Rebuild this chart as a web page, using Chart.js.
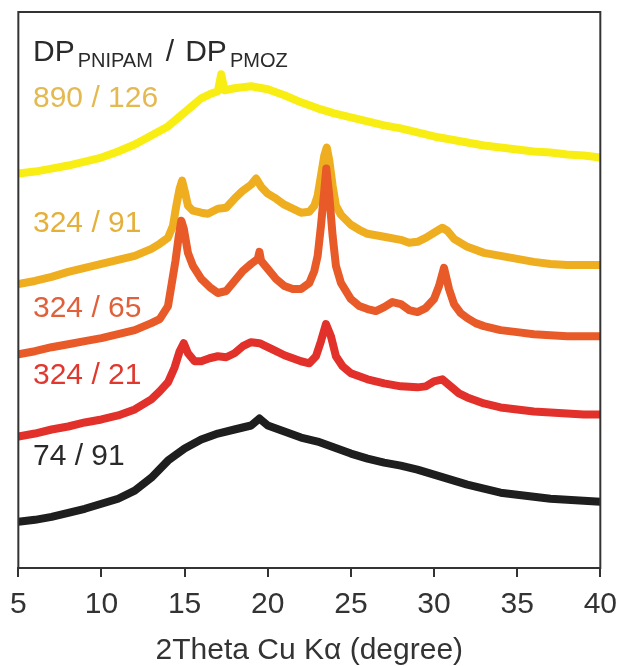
<!DOCTYPE html>
<html>
<head>
<meta charset="utf-8">
<script src="https://cdn.jsdelivr.net/npm/chart.js@4/dist/chart.umd.min.js"></script>
<style>
  html, body { margin: 0; padding: 0; background: #ffffff; }
  #wrap { width: 627px; height: 666px; position: relative; }
</style>
</head>
<body>
<div id="wrap"><canvas id="c" width="627" height="666"></canvas></div>
<script>
// ---- Data (2θ in degrees, intensity in arbitrary units incl. vertical offset) ----
const xTicks = [5, 10, 15, 20, 25, 30, 35, 40];

const x890_126 = [5,6,7,8,9,10,11,12,13,14,15,16,16.5,17,17.2,17.4,18,19,20,21,22,23,24,25,26,27,28,29,30,31,32,33,34,35,36,37,38,39,40];
const y890_126 = [394,396,399,402,406,410,416,423,432,441,455,469,473,476,493,477,479,481,478,472,465,459,454,450,446,442,439,435,431,428,425,422,420,418,416,415,413,412,410];

const x324_91 = [5,6,7,8,9,10,11,12,13,13.5,14,14.3,14.5,14.7,14.85,15,15.2,15.5,16,16.4,17,17.5,18,18.5,19,19.3,19.6,20,20.5,21,21.5,22,22.5,22.8,23,23.2,23.4,23.55,23.7,23.9,24.1,24.4,25,25.5,26,27,28,28.5,29,29.5,30,30.5,30.8,31.2,31.6,32,33,34,35,36,37,38,39,40];
const y324_91 = [284,287,291,296,300,304,308,312,319,324,330,342,362,379,387,377,362,357,355,354,359,360,369,377,383,389,381,374,369,363,359,355,356,362,372,392,412,420,407,382,362,353,343,338,334,331,328,325,326,330,335,340,337,329,325,321,315,312,309,306,304,303,303,303];

const x324_65 = [5,6,7,8,9,10,11,12,13,13.5,14,14.2,14.45,14.65,14.8,14.95,15.2,15.5,16,16.5,17,17.5,18,18.5,19,19.4,19.5,19.6,20,20.5,21,21.5,22,22.5,22.8,23,23.2,23.4,23.52,23.7,23.9,24.1,24.4,25,25.5,26,26.5,27,27.5,28,28.5,29,29.5,30,30.3,30.6,30.9,31.2,31.6,32,32.5,33,34,35,36,37,38,39,40];
const y324_65 = [214,217,221,224,227,230,234,238,245,249,262,282,307,332,347,339,315,302,289,281,275,277,287,297,304,309,316,307,299,289,282,279,279,285,297,312,342,377,399,372,332,302,285,269,262,259,257,261,266,264,258,256,260,269,282,300,279,264,255,250,245,242,238,236,234,233,232,232,232];

const x324_21 = [5,6,7,8,9,10,11,12,13,13.5,14,14.4,14.7,14.95,15.2,15.6,16,16.5,17,17.5,18,18.5,19,19.5,20,20.5,21,21.5,22,22.5,22.9,23.2,23.5,23.8,24.1,24.5,25,25.5,26,27,28,29,29.5,30,30.5,31,31.5,32,33,34,35,36,37,38,39,40];
const y324_21 = [132,135,139,142,146,149,153,159,169,177,186,201,217,225,215,207,207,210,212,211,215,222,226,225,221,217,213,210,207,205,212,227,244,232,212,202,195,192,189,185,182,181,182,187,189,182,175,171,165,161,159,157,156,155,154,154];

const x74_91 = [5,6,7,8,9,10,11,12,13,14,15,16,17,18,19,19.5,20,21,22,23,24,25,26,27,28,29,30,31,32,33,34,35,36,37,38,39,40];
const y74_91 = [47,49,52,56,60,65,70,78,91,108,120,129,135,139,143,150,143,137,131,127,121,115,110,106,103,99,94,89,84,80,76,74,72,70,69,68,67];

const seriesLabels = ['74 / 91', '324 / 21', '324 / 65', '324 / 91', '890 / 126'];
const xTitle = '2Theta Cu K\u03B1 (degree)';

// ---- Build chart ----
function pts(xs, ys) { return xs.map((x, i) => ({ x: x, y: ys[i] })); }

const lineColors = ['#1e1e1e', '#e2302a', '#e85a28', '#eeae1f', '#f8ee14'];
const textColors = ['#2a2a2a', '#e0382e', '#e0603a', '#e5b03a', '#e3b950'];
const dataSets = [pts(x74_91, y74_91), pts(x324_21, y324_21), pts(x324_65, y324_65), pts(x324_91, y324_91), pts(x890_126, y890_126)];

const FONT = '"Liberation Sans", Arial, Helvetica, sans-serif';

const frameAndLabels = {
  id: 'frameAndLabels',
  afterDraw(chart) {
    const ctx = chart.ctx;
    const a = chart.chartArea;
    ctx.save();
    ctx.strokeStyle = '#333333';
    ctx.lineWidth = 2;
    ctx.strokeRect(a.left, a.top, a.right - a.left, a.bottom - a.top);

    // header: DP_PNIPAM / DP_PMOZ
    ctx.fillStyle = '#2a2a2a';
    ctx.textBaseline = 'alphabetic';
    ctx.textAlign = 'left';
    let x = 33;
    const big = '30px ' + FONT, small = '20px ' + FONT;
    ctx.font = big; ctx.fillText('DP', x, 61); x += ctx.measureText('DP').width + 3;
    ctx.font = small; ctx.fillText('PNIPAM', x, 67); x += ctx.measureText('PNIPAM').width + 13;
    ctx.font = big; ctx.fillText('/', x, 61); x += ctx.measureText('/').width + 11;
    ctx.fillText('DP', x, 61); x += ctx.measureText('DP').width + 3;
    ctx.font = small; ctx.fillText('PMOZ', x, 67);

    // series labels
    const baselines = [465, 384, 317, 232, 107];
    ctx.font = big;
    seriesLabels.forEach((t, i) => {
      ctx.fillStyle = textColors[i];
      ctx.fillText(t, 33, baselines[i]);
    });
    ctx.restore();
  }
};

new Chart(document.getElementById('c'), {
  type: 'line',
  data: {
    datasets: dataSets.map((d, i) => ({
      label: seriesLabels[i],
      data: d,
      borderColor: lineColors[i],
      backgroundColor: lineColors[i],
      borderWidth: 8,
      pointRadius: 0,
      tension: 0,
      borderJoinStyle: 'round',
      borderCapStyle: 'round',
      fill: false
    }))
  },
  options: {
    responsive: false,
    animation: false,
    layout: { padding: { left: 17, right: 23, top: 12, bottom: -3 } },
    plugins: { legend: { display: false }, tooltip: { enabled: false } },
    scales: {
      x: {
        type: 'linear',
        min: 5, max: 40,
        afterBuildTicks(scale) { scale.ticks = xTicks.map(v => ({ value: v })); },
        ticks: { color: '#333333', font: { family: FONT, size: 30 }, padding: 10, maxRotation: 0 },
        grid: { display: true, drawOnChartArea: false, drawTicks: true, tickLength: 9, color: '#333333', lineWidth: 2 },
        border: { display: true, color: '#333333', width: 2 },
        title: { display: true, text: xTitle, color: '#333333', font: { family: FONT, size: 30 }, padding: { top: 0, bottom: 0 } }
      },
      y: {
        type: 'linear', min: 1, max: 555, display: false
      }
    }
  },
  plugins: [frameAndLabels]
});
</script>
</body>
</html>
